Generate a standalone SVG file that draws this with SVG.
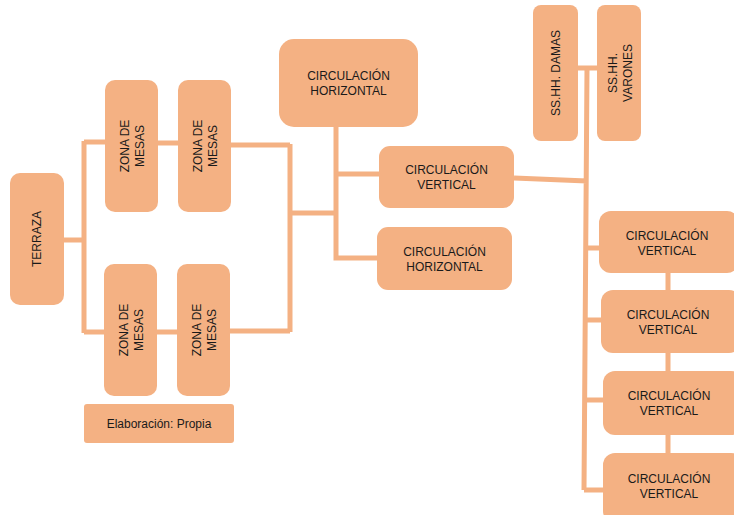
<svg xmlns="http://www.w3.org/2000/svg" width="734" height="515" viewBox="0 0 734 515">
<style>
.n{fill:#F4B183}
.t{font-family:"Liberation Sans",Arial,sans-serif;font-size:12px;fill:#1a1a1a;text-anchor:middle}
.c{fill:none;stroke:#F4B183;stroke-width:5;stroke-linejoin:miter}
</style>
<rect width="734" height="515" fill="#ffffff"/>
<g id="connectors">
<path class="c" d="M63,240 H84 M84,141 V333 M84,142 H105 M84,332 H104"/>
<path class="c" d="M158,143 H178 M231,145 H290 M290,144 V332 M157,332 H177 M230,331 H290"/>
<path class="c" d="M290,213 H336 M336,127 V258 H377 M336,174 H379"/>
<path class="c" d="M514,178 L587,181 M578,68 H597 M587,68 L584,490"/>
<path class="c" d="M586,248 H599 M585,320 H601 M585,400 H603 M584,490 H603"/>
<path class="c" d="M668,273 V290 M668,353 V371 M668,435 V453"/>
</g>
<g id="terraza"><rect class="n" x="10" y="173" width="54" height="132" rx="10"/><text class="t" transform="translate(36.5,239) rotate(-90)" y="4.3">TERRAZA</text></g>
<g id="zona1"><rect class="n" x="105" y="80" width="53" height="132" rx="10"/><text class="t" transform="translate(131.5,146) rotate(-90)"><tspan x="0" y="-2.5">ZONA DE</tspan><tspan x="0" y="12.5">MESAS</tspan></text></g>
<g id="zona2"><rect class="n" x="178" y="80" width="53" height="132" rx="10"/><text class="t" transform="translate(204.5,146) rotate(-90)"><tspan x="0" y="-2.5">ZONA DE</tspan><tspan x="0" y="12.5">MESAS</tspan></text></g>
<g id="zona3"><rect class="n" x="104" y="264" width="53" height="132" rx="10"/><text class="t" transform="translate(130.5,330) rotate(-90)"><tspan x="0" y="-2.5">ZONA DE</tspan><tspan x="0" y="12.5">MESAS</tspan></text></g>
<g id="zona4"><rect class="n" x="177" y="264" width="53" height="132" rx="10"/><text class="t" transform="translate(203.5,330) rotate(-90)"><tspan x="0" y="-2.5">ZONA DE</tspan><tspan x="0" y="12.5">MESAS</tspan></text></g>
<g id="elaboracion"><rect class="n" x="84" y="404" width="150" height="39" rx="3"/><text class="t" x="159" y="428">Elaboración: Propia</text></g>
<g id="ch1"><rect class="n" x="279" y="39" width="139" height="88" rx="15"/><text class="t"><tspan x="348.5" y="80">CIRCULACIÓN</tspan><tspan x="348.5" y="95">HORIZONTAL</tspan></text></g>
<g id="cv0"><rect class="n" x="379" y="146" width="135" height="62" rx="11"/><text class="t"><tspan x="446.5" y="174">CIRCULACIÓN</tspan><tspan x="446.5" y="189">VERTICAL</tspan></text></g>
<g id="ch2"><rect class="n" x="377" y="227" width="135" height="63" rx="11"/><text class="t"><tspan x="444.5" y="256">CIRCULACIÓN</tspan><tspan x="444.5" y="271">HORIZONTAL</tspan></text></g>
<g id="damas"><rect class="n" x="533" y="5" width="45" height="136" rx="8"/><text class="t" transform="translate(555.5,73) rotate(-90)" y="4.3">SS.HH. DAMAS</text></g>
<g id="varones"><rect class="n" x="597" y="5" width="44" height="136" rx="8"/><text class="t" transform="translate(619,73) rotate(-90)"><tspan x="0" y="-2.5">SS.HH.</tspan><tspan x="0" y="12.5">VARONES</tspan></text></g>
<g id="cv1"><rect class="n" x="599" y="211" width="140" height="62" rx="12"/><text class="t"><tspan x="667" y="240">CIRCULACIÓN</tspan><tspan x="667" y="255">VERTICAL</tspan></text></g>
<g id="cv2"><rect class="n" x="601" y="290" width="140" height="63" rx="12"/><text class="t"><tspan x="668" y="319">CIRCULACIÓN</tspan><tspan x="668" y="334">VERTICAL</tspan></text></g>
<g id="cv3"><rect class="n" x="603" y="371" width="140" height="64" rx="12"/><text class="t"><tspan x="669" y="400">CIRCULACIÓN</tspan><tspan x="669" y="415">VERTICAL</tspan></text></g>
<g id="cv4"><rect class="n" x="603" y="453" width="140" height="70" rx="12"/><text class="t"><tspan x="669" y="483">CIRCULACIÓN</tspan><tspan x="669" y="498">VERTICAL</tspan></text></g>
</svg>
